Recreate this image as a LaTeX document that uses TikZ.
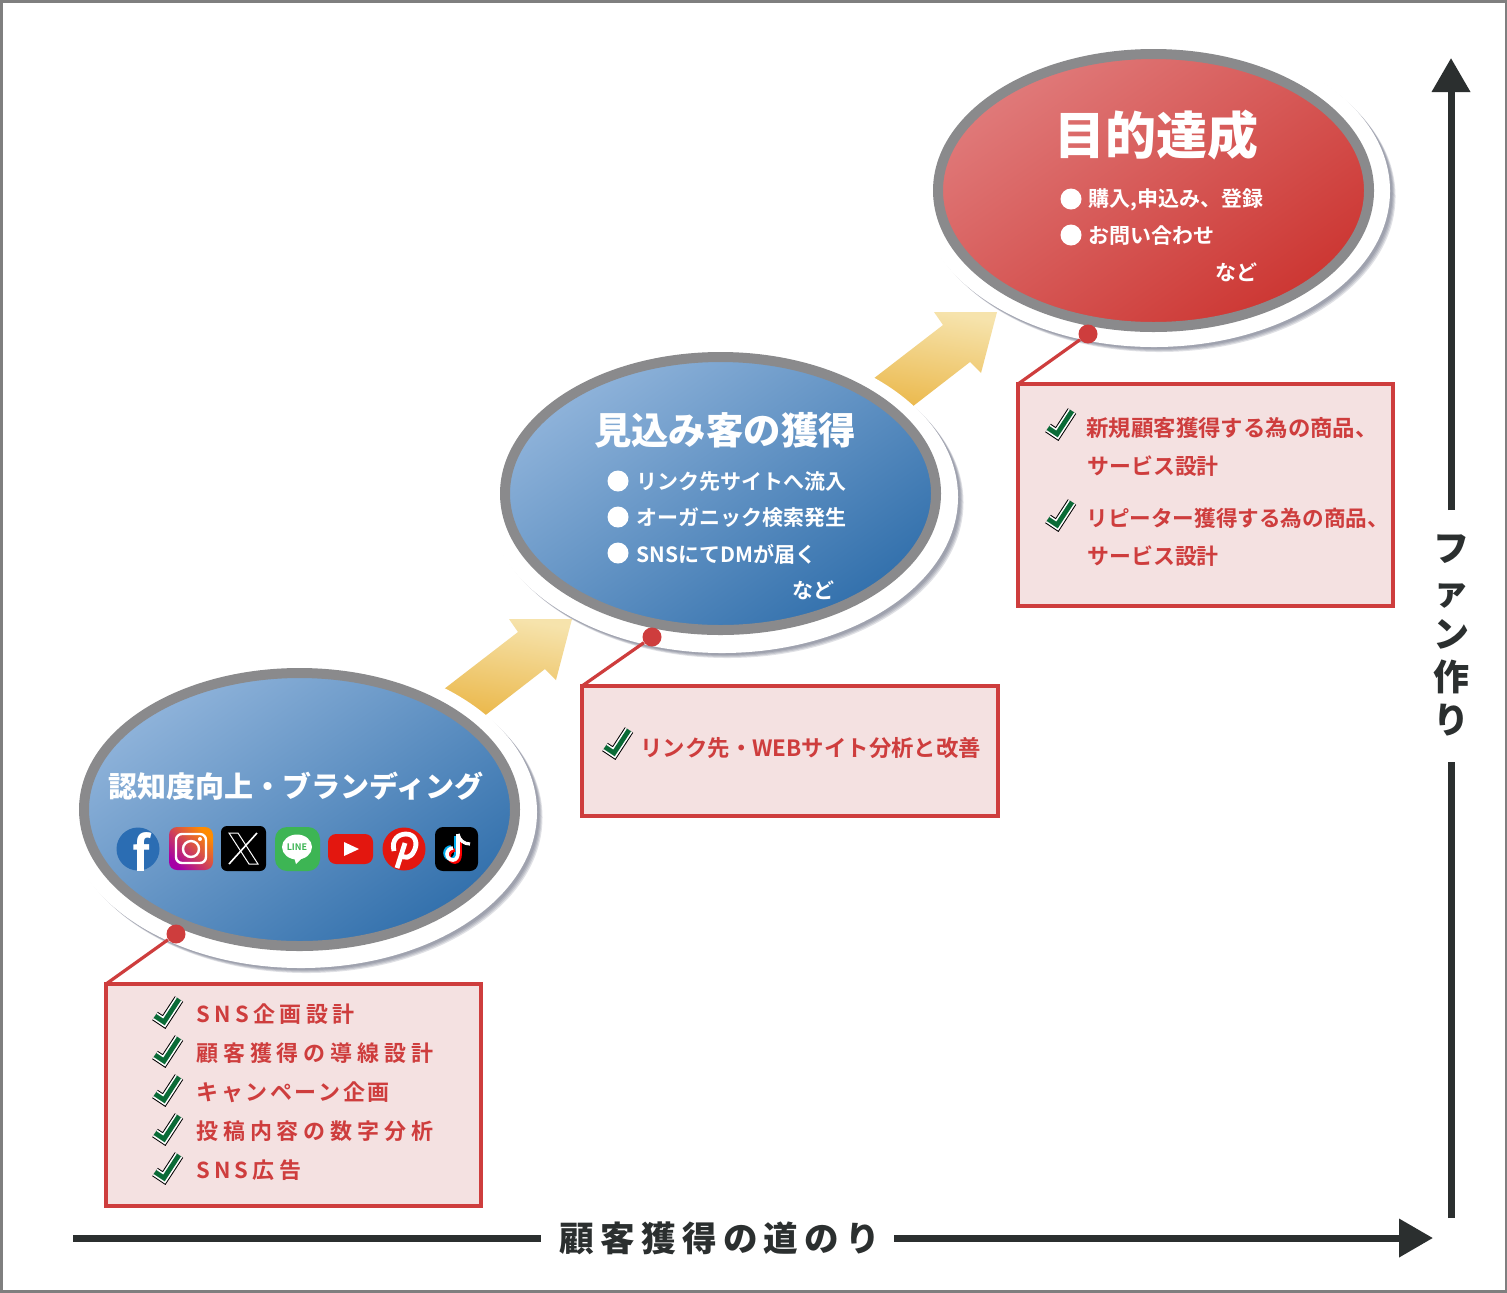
\documentclass[tikz,border=0pt]{standalone}
\usepackage{fontspec}
\setmainfont[BoldFont={Noto Sans CJK JP Bold}]{Noto Sans CJK JP}
\newfontfamily\heavyfont{Noto Sans CJK JP Black}
\usepackage{xcolor}
\usepackage{tikz}
\usetikzlibrary{arrows.meta,shapes.geometric}
\definecolor{KSFrame}{HTML}{7F7F7F}
\definecolor{KSGray}{HTML}{8A8A8C}
\definecolor{KSBlueA}{HTML}{8FB3DA}
\definecolor{KSBlueB}{HTML}{3270AC}
\definecolor{KSRedA}{HTML}{E07A7A}
\definecolor{KSRedB}{HTML}{CC3632}
\definecolor{KSMark}{HTML}{CE3D3D}
\definecolor{KSPink}{HTML}{F4E1E1}
\definecolor{KSInk}{HTML}{2B2F2F}
\definecolor{KSGreen}{HTML}{0B6B37}
\definecolor{KSGoldA}{HTML}{F6E3AC}
\definecolor{KSGoldB}{HTML}{EAB544}
\definecolor{KSShadow}{HTML}{4A4F68}
\definecolor{KSFace}{HTML}{2B6DB3}
\definecolor{KSLine}{HTML}{3DB554}
\definecolor{KSTube}{HTML}{E3170F}
\tikzset{
  stage/.style={ellipse,draw=KSGray,line width=5pt,inner sep=0pt,outer sep=0pt,minimum width=215.5pt,minimum height=136.5pt},
  bluestage/.style={stage,top color=KSBlueA,bottom color=KSBlueB,shading angle=35},
  redstage/.style={stage,top color=KSRedA,bottom color=KSRedB,shading angle=35},
  backplate/.style={ellipse,fill=white,inner sep=0pt,outer sep=0pt,minimum width=236pt,minimum height=156pt},
  markdot/.style={circle,fill=KSMark,inner sep=0pt,minimum size=9.5pt},
  markbox/.style={draw=KSMark,fill=KSPink,line width=2.2pt,inner sep=0pt,outer sep=0pt,anchor=north west},
  leader/.style={draw=KSMark,line width=1.6pt},
  axisline/.style={draw=KSInk,line width=3.5pt},
  axistip/.style={axisline,-{Triangle[length=17pt,width=18.5pt]}},
  stagetitle/.style={text=white,font=\heavyfont\fontsize{#1}{#1}\selectfont,inner sep=0pt},
  stageitem/.style={text=white,font=\bfseries\fontsize{10.5}{12}\selectfont,inner sep=0pt,anchor=west},
  stagedot/.style={circle,fill=white,inner sep=0pt,minimum size=10.5pt},
  boxitem/.style={text=KSMark,font=\bfseries\fontsize{#1}{12}\selectfont,inner sep=0pt,anchor=west},
  wideitem/.style={text=KSMark,font=\bfseries\fontsize{11}{12}\selectfont\addfontfeatures{LetterSpace=#1},inner sep=0pt,anchor=west},
  axislabel/.style={text=KSInk,inner sep=0pt},
  tick/.pic={
    \draw[black,line width=5pt,miter limit=10] (-12,4)--(-3,10)--(12,-13);
    \draw[white,line width=4pt,miter limit=10] (-12,4)--(-3,10)--(12,-13);
    \draw[KSGreen,line width=2.4pt,miter limit=10] (-12,4)--(-3,10)--(12,-13);
  },
}
\begin{document}
\begin{tikzpicture}[x=0.5pt,y=-0.5pt]
\useasboundingbox (0,0) rectangle (1507,1292);
\fill[white] (0,0) rectangle (1507,1292);
\draw[KSFrame,line width=1.5pt] (1,1) rectangle (1506,1291);
% gold arrows
\foreach \dx/\dy in {0/0,-425/307}
  \shade[shift={(\dx,\dy)},top color=KSGoldA,bottom color=KSGoldB,shading angle=-10]
    (997,312)--(934,312)--(943,325)--(860,389)--(899,417)--(970,362)--(981,373)--cycle;
% plates with soft shadow
\foreach \cx/\cy in {1154/191,722/497,301/812}{
  \foreach \s in {5.5,4.5,3.5,2.5}
    \fill[KSShadow,opacity=0.17] (\cx+\s,\cy+\s) ellipse[x radius=236,y radius=155.5];
  \node[backplate] at (\cx,\cy) {};
}
% stages
\node[redstage] (goal) at (1153.5,190.5) {};
\node[bluestage] (lead) at (720.5,493.5) {};
\node[bluestage] (brand) at (299.5,809.5) {};
% red stage text
\node[stagetitle=25.5] (goalT) at (1156,135) {目的達成};
\node[stagedot] (goalD1) at (1071,199) {};
\node[stagedot] (goalD2) at (1071,235) {};
\node[stageitem] (goalA) at (1088,200) {購入,申込み、登録};
\node[stageitem] (goalB) at (1088,236) {お問い合わせ};
\node[stageitem,anchor=east] (goalC) at (1258,272) {など};
% blue stage text
\node[stagetitle=18.7] (leadT) at (725,430) {見込み客の獲得};
\foreach \i/\y/\t in {1/481/リンク先サイトへ流入,2/517/オーガニック検索発生,3/553/SNSにてDMが届く}{
  \node[stagedot] (leadD\i) at (618,\y) {};
  \node[stageitem] (leadA\i) at (636,\y+1) {\t};
}
\node[stageitem,anchor=east] (leadC) at (835,590) {など};
\node[stagetitle=14.5] (brandT) at (296,786) {認知度向上・ブランディング};
% sns icons
\fill[KSFace] (138,849) circle (21.5);
\node[text=white,font=\bfseries\fontsize{24}{24}\selectfont,inner sep=0pt] (iconF) at (141,852) {f};
\shade[left color=orange!90!yellow,right color=violet!70!magenta,shading angle=-45,rounded corners=4pt] (169,827) rectangle (213,870);
\draw[white,line width=1.2pt,rounded corners=3pt] (176,834) rectangle (206,863);
\draw[white,line width=1.2pt] (191,849) circle (8);
\fill[white] (200,839) circle (2);
\fill[black,rounded corners=3pt] (221,826) rectangle (266,871);
\draw[white,line width=.5pt] (229,833)--(238,833)--(258,864)--(249,864)--cycle;
\draw[white,line width=.8pt] (257,833)--(229,864);
\fill[KSLine,rounded corners=6pt] (275,827) rectangle (320,871);
\fill[white] (297,847) ellipse[x radius=15,y radius=12.5];
\fill[white] (294,857)--(303,857)--(296,864)--cycle;
\node[text=KSLine,font=\bfseries\fontsize{4.5}{5}\selectfont,inner sep=0pt] (iconL) at (297,847) {LINE};
\fill[KSTube,rounded corners=4pt] (328,834) rectangle (373,864);
\fill[white] (344,842)--(359,849)--(344,856)--cycle;
\fill[KSTube] (404,849) circle (21.5);
\draw[white,line width=2.4pt] (397,868)--(405,843);
\draw[white,line width=2.4pt] (394,851) .. controls (391,839) and (399,834) .. (406,834) .. controls (416,834) and (418,844) .. (414,851) .. controls (411,858) and (404,859) .. (401,855);
\fill[black,rounded corners=4pt] (435,827) rectangle (478,871);
\draw[cyan,line width=1.8pt] (456,836) -- (456,852) to[out=270,in=0] (451,859) to[out=180,in=270] (445,853) to[out=90,in=180] (451,847);
\draw[red,line width=1.8pt] (460,838) -- (460,855) to[out=270,in=0] (455,862) to[out=180,in=270] (449,856) to[out=90,in=180] (455,850);
\draw[white,line width=1.8pt] (458,834) -- (458,853) to[out=270,in=0] (453,860) to[out=180,in=270] (447,854) to[out=90,in=180] (453,848);
\draw[white,line width=1.6pt] (458,834) to[out=280,in=180] (470,844);
% mark boxes
\node[markbox,minimum width=187.5pt,minimum height=111pt] (boxA) at (106,984) {};
\node[markbox,minimum width=208pt,minimum height=65pt] (boxB) at (582,686) {};
\node[markbox,minimum width=187.5pt,minimum height=111pt] (boxC) at (1018,384) {};
\node[markdot] (dotA) at (176,934) {};
\node[markdot] (dotB) at (652,637) {};
\node[markdot] (dotC) at (1088,334) {};
\draw[leader] (dotA)--(boxA.north west);
\draw[leader] (dotB)--(boxB.north west);
\draw[leader] (dotC)--(boxC.north west);
% box text
\foreach \i/\y/\s/\t in {1/1014/20/SNS企画設計,2/1053/22/顧客獲得の導線設計,3/1092/12/キャンペーン企画,4/1131/22/投稿内容の数字分析,5/1170/19/SNS広告}{
  \pic at (167,\y-2) {tick};
  \node[wideitem=\s] (itemA\i) at (196,\y) {\t};
}
\pic at (617,743) {tick};
\node[boxitem=11.2] (itemB) at (640,748) {リンク先・WEBサイト分析と改善};
\pic at (1060,424) {tick};
\pic at (1060,515) {tick};
\node[boxitem=11.2] (itemC1) at (1086,428) {新規顧客獲得する為の商品、};
\node[boxitem=10.95] (itemC2) at (1087,466) {サービス設計};
\node[boxitem=10.8] (itemC3) at (1086,518) {リピーター獲得する為の商品、};
\node[boxitem=10.95] (itemC4) at (1087,556) {サービス設計};
% axes
\coordinate (hStart) at (73,1238);
\coordinate (hEnd) at (1433,1238);
\coordinate (vStart) at (1451,1218);
\coordinate (vEnd) at (1451,58);
\node[axislabel,font=\heavyfont\fontsize{17.3}{21}\selectfont\addfontfeatures{LetterSpace=18}] (hLabel) at (720,1238) {顧客獲得の道のり};
\node[axislabel,align=center,font=\heavyfont\fontsize{18}{21.5}\selectfont] (vLabel) at (1451,635) {フ\\ァ\\ン\\作\\り};
\draw[axisline] (hStart)--(541,1238);
\draw[axistip] (894,1238)--(hEnd);
\draw[axisline] (vStart)--(1451,762);
\draw[axistip] (1451,510)--(vEnd);
\end{tikzpicture}
\end{document}
